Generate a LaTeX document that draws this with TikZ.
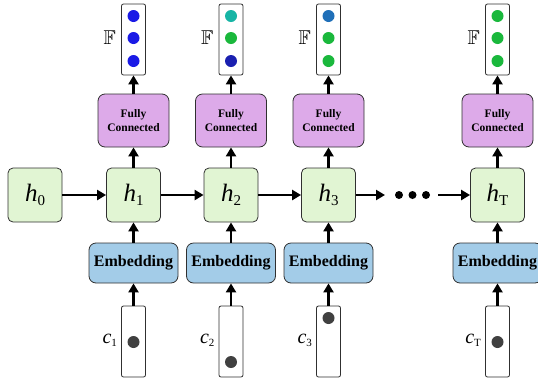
\documentclass[tikz,border=0pt]{standalone}
\usepackage{amssymb}
\usepackage{fontspec}
\setmainfont{Liberation Serif}
\usetikzlibrary{arrows.meta}
\definecolor{hgreen}{HTML}{E1F5D3}
\definecolor{embblue}{HTML}{A3CCE8}
\definecolor{fcpurple}{HTML}{DDAAE9}
\definecolor{dblue}{HTML}{1A1AE6}
\definecolor{dteal}{HTML}{17B5A5}
\definecolor{dgreen}{HTML}{1AB83C}
\definecolor{ddark}{HTML}{1A20B0}
\definecolor{dsteel}{HTML}{1F6FB8}
\definecolor{dgray}{HTML}{404040}
\definecolor{edge}{HTML}{303030}
\tikzset{
  hbox/.style={draw=edge, line width=0.8pt, fill=hgreen, rounded corners=5pt, minimum width=54pt, minimum height=54pt, inner sep=0pt},
  embbox/.style={draw=edge, line width=0.8pt, fill=embblue, rounded corners=7pt, minimum width=89pt, minimum height=40pt, inner sep=0pt, font=\fontsize{16}{16}\selectfont\bfseries},
  fcbox/.style={draw=edge, line width=0.8pt, fill=fcpurple, rounded corners=7pt, minimum width=71pt, minimum height=53pt, inner sep=0pt, align=center, font=\fontsize{11.5}{14.5}\selectfont\bfseries},
  vecbox/.style={draw=edge, line width=0.8pt, fill=white, rounded corners=2pt, minimum width=24pt, minimum height=71pt, inner sep=0pt},
  ar/.style={line width=2.7pt, -{Triangle[length=9pt,width=10pt]}},
  hlab/.style={font=\fontsize{25}{25}\selectfont},
}
\newcommand{\hlabel}[1]{\textit{h}\raisebox{-0.35ex}{\fontsize{15}{15}\selectfont #1}}
\newcommand{\clabel}[1]{\textit{c}\raisebox{-0.35ex}{\fontsize{11}{11}\selectfont #1}}
\begin{document}
\begin{tikzpicture}[x=1pt,y=-1pt]
\useasboundingbox (0,0) rectangle (538,381);
% h boxes
\node[hbox, hlab] (h0) at (35,195) {\hlabel{0}};
\node[hbox, hlab] (h1) at (133.5,195) {\hlabel{1}};
\node[hbox, hlab] (h2) at (231,195) {\hlabel{2}};
\node[hbox, hlab] (h3) at (328.5,195) {\hlabel{3}};
\node[hbox, hlab] (hT) at (497.5,195) {\hlabel{T}};
% embedding
\node[embbox] (e1) at (133.5,263) {Embedding};
\node[embbox] (e2) at (231,263) {Embedding};
\node[embbox] (e3) at (328.5,263) {Embedding};
\node[embbox] (eT) at (497.5,263) {Embedding};
% fully connected
\node[fcbox] (f1) at (133.5,120.5) {Fully\\Connected};
\node[fcbox] (f2) at (231,120.5) {Fully\\Connected};
\node[fcbox] (f3) at (328.5,120.5) {Fully\\Connected};
\node[fcbox] (fT) at (497.5,120.5) {Fully\\Connected};
% output vectors
\node[vecbox] (o1) at (133.5,39.5) {};
\node[vecbox] (o2) at (231,39.5) {};
\node[vecbox] (o3) at (328.5,39.5) {};
\node[vecbox] (oT) at (497.5,39.5) {};
% input vectors
\node[vecbox] (c1) at (133.5,341.5) {};
\node[vecbox] (c2) at (231,341.5) {};
\node[vecbox] (c3) at (328.5,341.5) {};
\node[vecbox] (cT) at (497.5,341.5) {};
% F labels
\foreach \n in {o1,o2,o3,oT}
  \node[anchor=east, font=\fontsize{20}{20}\selectfont, inner sep=0pt] at ([xshift=-5pt,yshift=2pt]\n.west) {$\mathbb{F}$};
% c labels
\node[anchor=east, font=\fontsize{20}{20}\selectfont, inner sep=0pt] at ([xshift=-4pt,yshift=1pt]c1.west) {\clabel{1}};
\node[anchor=east, font=\fontsize{20}{20}\selectfont, inner sep=0pt] at ([xshift=-4pt,yshift=1pt]c2.west) {\clabel{2}};
\node[anchor=east, font=\fontsize{20}{20}\selectfont, inner sep=0pt] at ([xshift=-4pt,yshift=1pt]c3.west) {\clabel{3}};
\node[anchor=east, font=\fontsize{20}{20}\selectfont, inner sep=0pt] at ([xshift=-4pt,yshift=1pt]cT.west) {\clabel{T}};
% output dots
\fill[dblue] (133.5,16) circle (6);
\fill[dblue] (133.5,38) circle (6);
\fill[dblue] (133.5,61) circle (6);
\fill[dteal] (231,16) circle (6);
\fill[dgreen] (231,38) circle (6);
\fill[ddark] (231,61) circle (6);
\fill[dsteel] (328.5,16) circle (6);
\fill[dgreen] (328.5,38) circle (6);
\fill[dgreen] (328.5,61) circle (6);
\fill[dgreen] (497.5,16) circle (6);
\fill[dgreen] (497.5,38) circle (6);
\fill[dgreen] (497.5,61) circle (6);
% input dots
\fill[dgray] (133.5,342) circle (6);
\fill[dgray] (231,362) circle (6);
\fill[dgray] (328.5,318) circle (6);
\fill[dgray] (497.5,342) circle (6);
% ellipsis
\coordinate (dotsL) at (385,195);
\coordinate (dotsR) at (438,195);
\fill (399,195) circle (4);
\fill (412.5,195) circle (4);
\fill (426,195) circle (4);
% arrows
\draw[ar] (h0) -- (h1);
\draw[ar] (h1) -- (h2);
\draw[ar] (h2) -- (h3);
\draw[ar] (h3) -- (dotsL);
\draw[ar] (dotsR) -- (hT);
\foreach \i in {1,2,3,T} {
  \draw[ar] (c\i) -- (e\i);
  \draw[ar] (e\i) -- (h\i);
  \draw[ar] (h\i) -- (f\i);
  \draw[ar] (f\i) -- (o\i);
}
\end{tikzpicture}
\end{document}
